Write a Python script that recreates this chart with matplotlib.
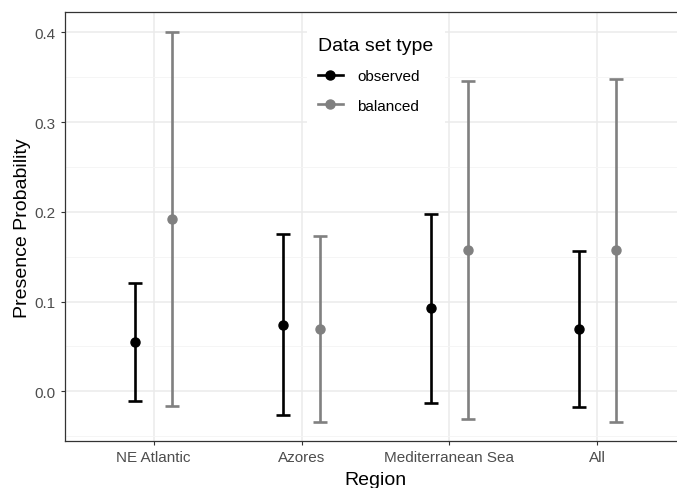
import matplotlib
matplotlib.use("Agg")
import matplotlib.pyplot as plt
import numpy as np
from matplotlib.lines import Line2D

plt.rcParams['font.family'] = ['Liberation Sans', 'DejaVu Sans']

regions = ["NE Atlantic", "Azores", "Mediterranean Sea", "All"]
obs_mean = [0.0546, 0.0742, 0.0925, 0.0694]
obs_low = [-0.0108, -0.026, -0.013, -0.0178]
obs_high = [0.1207, 0.1753, 0.198, 0.1563]
bal_mean = [0.192, 0.069, 0.158, 0.1574]
bal_low = [-0.016, -0.0346, -0.0305, -0.0342]
bal_high = [0.400, 0.1734, 0.346, 0.348]
series_names = ["observed", "balanced"]
series_colors = ["#000000", "#808080"]
yticks = [0.0, 0.1, 0.2, 0.3, 0.4]

W, H = 677, 489
fig = plt.figure(figsize=(W / 100, H / 100), dpi=100)
ax = fig.add_axes([65 / W, (H - 442.3) / H, (686 - 65) / W, (442.3 - 13.3) / H])

x = np.arange(1, len(regions) + 1)
dodge = 0.125
data = [(obs_mean, obs_low, obs_high), (bal_mean, bal_low, bal_high)]
for i, (m, lo, hi) in enumerate(data):
    xs = x + (-dodge if i == 0 else dodge)
    m = np.array(m); lo = np.array(lo); hi = np.array(hi)
    ax.errorbar(xs, m, yerr=[m - lo, hi - m], fmt='o', color=series_colors[i],
                ecolor=series_colors[i], elinewidth=1.9, capsize=5.2, capthick=1.9,
                markersize=6.5, zorder=3)

ax.set_xlim(0.4, 4.6)
ax.set_ylim(-0.0557, 0.4223)
ax.set_xticks(x)
ax.set_xticklabels(regions)
ax.set_yticks(yticks)
ax.set_yticklabels([f"{v:.1f}" for v in yticks])
ax.set_yticks([-0.05, 0.05, 0.15, 0.25, 0.35], minor=True)
ax.tick_params(axis='both', which='major', colors='#333333', labelcolor='#4D4D4D',
               labelsize=11, length=3, width=0.8)
ax.tick_params(axis='y', which='minor', length=0)
ax.grid(True, which='major', color='#EBEBEB', linewidth=1.1, zorder=0)
ax.grid(True, which='minor', axis='y', color='#F4F4F4', linewidth=0.6, zorder=0)
ax.set_axisbelow(True)
for s in ax.spines.values():
    s.set_color('#333333')
    s.set_linewidth(0.9)

ax.set_xlabel("Region", fontsize=14, labelpad=5)
ax.set_ylabel("Presence Probability", fontsize=14, labelpad=3)

handles = [Line2D([0], [0], color=c, marker='o', linewidth=1.9, markersize=6.5)
           for c in series_colors]
leg = ax.legend(handles, series_names, title="Data set type", loc='upper left',
                bbox_to_anchor=(299 / W, 1 - 19 / H), bbox_transform=fig.transFigure,
                frameon=True, facecolor='white', edgecolor='none', framealpha=1,
                fancybox=False, fontsize=11, title_fontsize=14, handlelength=1.6,
                handletextpad=0.95, labelspacing=1.0, borderpad=0.75, alignment='left')
leg.set_zorder(2)

fig.savefig("out.png", dpi=100)
